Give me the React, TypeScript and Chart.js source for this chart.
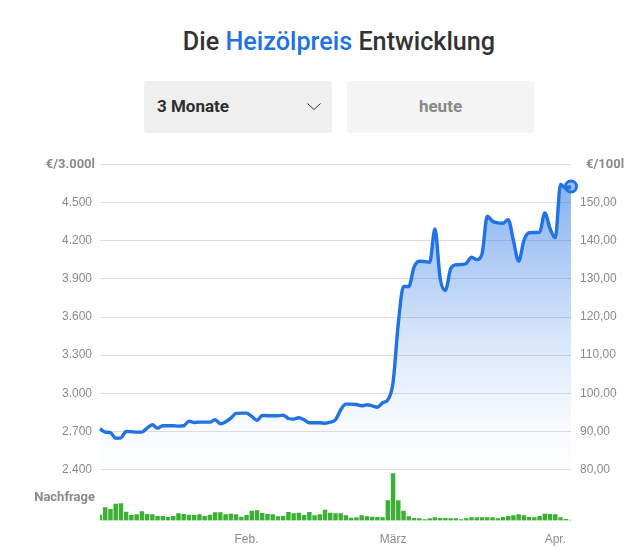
import React, { useRef, useEffect } from "react";
import { Chart, registerables } from "chart.js";

Chart.register(...registerables);

// one entry per day, 04.01. to 04.04.
const days =
  "04.01 05.01 06.01 07.01 08.01 09.01 10.01 11.01 12.01 13.01 14.01 15.01 16.01 17.01 18.01 19.01 20.01 21.01 22.01 23.01 24.01 25.01 26.01 27.01 28.01 29.01 30.01 31.01 01.02 02.02 03.02 04.02 05.02 06.02 07.02 08.02 09.02 10.02 11.02 12.02 13.02 14.02 15.02 16.02 17.02 18.02 19.02 20.02 21.02 22.02 23.02 24.02 25.02 26.02 27.02 28.02 01.03 02.03 03.03 04.03 05.03 06.03 07.03 08.03 09.03 10.03 11.03 12.03 13.03 14.03 15.03 16.03 17.03 18.03 19.03 20.03 21.03 22.03 23.03 24.03 25.03 26.03 27.03 28.03 29.03 30.03 31.03 01.04 02.04 03.04 04.04".split(
    " "
  );

const monthLabels: Record<string, string> = {
  "01.02": "Feb.",
  "01.03": "März",
  "01.04": "Apr.",
};

// euro per 3000 litres
const price = [
  2720, 2694, 2689, 2646, 2649, 2699, 2697, 2694, 2694, 2725, 2752, 2725, 2744,
  2744, 2744, 2741, 2744, 2780, 2770, 2772, 2772, 2772, 2791, 2760, 2775, 2804,
  2841, 2843, 2843, 2817, 2786, 2825, 2823, 2823, 2823, 2827, 2801, 2796, 2807,
  2791, 2767, 2767, 2767, 2764, 2772, 2791, 2870, 2914, 2914, 2911, 2901, 2909,
  2901, 2890, 2925, 2948, 3085, 3549, 3840, 3840, 3992, 4039, 4037, 4031, 4294,
  3903, 3809, 3979, 4011, 4013, 4023, 4071, 4052, 4097, 4393, 4354, 4341, 4338,
  4367, 4202, 4039, 4202, 4263, 4265, 4267, 4420, 4296, 4223, 4643, 4615, 4627,
];

const demand = [
  5.3, 12.7, 11, 16.3, 16.7, 8.3, 5, 5.7, 8.7, 6, 5.7, 4, 4, 3, 4, 6.7, 6, 5.3,
  5, 5.7, 4, 5.3, 7.7, 7.7, 5.7, 6.3, 5.7, 3.3, 5, 9.3, 9.7, 7, 6, 5.7, 3.7, 4,
  8, 6.7, 7.3, 5, 8, 4.7, 5.7, 10.3, 7.3, 6.7, 6.7, 4.7, 2.3, 2.7, 4.7, 3.7,
  3.3, 3, 2.7, 19.7, 46.7, 19.7, 9.3, 3.7, 2, 1.7, 0.7, 1.7, 2.7, 2, 2, 1.7,
  1.7, 0.7, 1.7, 2.7, 2.7, 2.7, 2.7, 2.7, 1.7, 3, 4, 4.7, 5.7, 4.7, 3, 2.7, 4,
  6.3, 6, 5.7, 2.7, 1, 0.4,
];

const leftTicks = [2400, 2700, 3000, 3300, 3600, 3900, 4200, 4500, 4800];
const leftLabels = ["2.400", "2.700", "3.000", "3.300", "3.600", "3.900", "4.200", "4.500", ""];
const rightTicks = [80, 90, 100, 110, 120, 130, 140, 150, 160];
const rightLabels = ["80,00", "90,00", "100,00", "110,00", "120,00", "130,00", "140,00", "150,00", ""];

const BLUE = "#2172e5";
const GREY = "#8a8a8a";
const tickFont = { family: "'Liberation Sans', sans-serif", size: 12 };

// bold unit captions and the "Nachfrage" label sit slightly off the tick column
const captions = {
  id: "captions",
  afterDraw(chart: any) {
    const { ctx, chartArea, scales } = chart;
    ctx.save();
    ctx.font = "bold 13px Roboto, sans-serif";
    ctx.fillStyle = GREY;
    ctx.textBaseline = "middle";
    ctx.textAlign = "right";
    ctx.fillText("€/3.000l", chartArea.left - 5, scales.y.getPixelForValue(4800));
    ctx.fillText("Nachfrage", chartArea.left - 5, scales.y.getPixelForValue(2180));
    ctx.textAlign = "left";
    ctx.fillText("€/100l", chartArea.right + 15, scales.y1.getPixelForValue(160));
    ctx.restore();
  },
};

const App: React.FC = () => {
  const chartRef = useRef<HTMLCanvasElement | null>(null);

  useEffect(() => {
    if (!chartRef.current) return;

    const chart = new Chart(chartRef.current, {
      type: "bar",
      data: {
        labels: days,
        datasets: [
          {
            type: "line",
            data: price,
            yAxisID: "y",
            borderColor: BLUE,
            borderWidth: 3.4,
            cubicInterpolationMode: "monotone",
            fill: { value: 2400 },
            order: 1,
            backgroundColor: (c: any) => {
              const { ctx, scales, chartArea } = c.chart;
              if (!chartArea) return "transparent";
              const top = scales.y.getPixelForValue(4640);
              const bottom = scales.y.getPixelForValue(2400);
              if (!isFinite(top) || !isFinite(bottom)) return "transparent";
              const g = ctx.createLinearGradient(0, top, 0, bottom);
              g.addColorStop(0, "rgba(33,114,229,0.54)");
              g.addColorStop(0.55, "rgba(33,114,229,0.17)");
              g.addColorStop(0.85, "rgba(33,114,229,0.03)");
              g.addColorStop(1, "rgba(33,114,229,0.01)");
              return g;
            },
            pointRadius: (c: any) => (c.dataIndex === price.length - 1 ? 5.5 : 0),
            pointBorderWidth: 3,
            pointBorderColor: BLUE,
            pointBackgroundColor: "rgba(33,114,229,0.45)",
          },
          {
            type: "bar",
            data: demand,
            yAxisID: "y2",
            backgroundColor: "#3cb034",
            barThickness: 3.8,
            order: 2,
          },
        ],
      } as any,
      plugins: [captions],
      options: {
        responsive: false,
        animation: false,
        layout: { padding: { top: 164.6, left: 0, right: 0, bottom: 0 } },
        plugins: { legend: { display: false }, tooltip: { enabled: false } },
        scales: {
          x: {
            offset: false,
            grid: { display: false, drawTicks: false },
            border: { display: false },
            ticks: {
              autoSkip: false,
              maxRotation: 0,
              padding: 12,
              color: GREY,
              font: tickFont,
              callback: (_v: any, i: number) => monthLabels[days[i]] ?? "",
            },
            afterFit: (s: any) => {
              s.height = 37.6;
            },
          },
          y: {
            position: "left",
            min: 1998.6,
            max: 4800,
            grid: { color: "#dedede", lineWidth: 1, drawTicks: false },
            border: { display: false },
            ticks: {
              padding: 8,
              color: GREY,
              font: tickFont,
              autoSkip: false,
              callback: (v: any) => leftLabels[leftTicks.indexOf(v)],
            },
            afterBuildTicks: (s: any) => {
              s.ticks = leftTicks.map((value) => ({ value }));
            },
            afterFit: (s: any) => {
              s.width = 100;
            },
          },
          y1: {
            position: "right",
            min: 66.62,
            max: 160,
            grid: { display: false, drawTicks: false },
            border: { display: false },
            ticks: {
              padding: 9,
              color: GREY,
              font: tickFont,
              autoSkip: false,
              callback: (v: any) => rightLabels[rightTicks.indexOf(v)],
            },
            afterBuildTicks: (s: any) => {
              s.ticks = rightTicks.map((value) => ({ value }));
            },
            afterFit: (s: any) => {
              s.width = 67;
            },
          },
          y2: { display: false, min: 0, max: 355.8 },
        },
      },
    });

    return () => {
      chart.destroy();
    };
  }, []);

  const box: React.CSSProperties = {
    position: "absolute",
    top: 81,
    height: 50,
    paddingBottom: 2,
    borderRadius: 3,
    display: "flex",
    alignItems: "center",
    fontWeight: 700,
    fontSize: 17,
  };

  return (
    <div style={{ position: "absolute", left: 0, top: 0, width: 638, height: 558, fontFamily: "Roboto, sans-serif" }}>
      <div
        style={{
          position: "absolute",
          top: 26,
          left: 0,
          width: 678,
          textAlign: "center",
          fontSize: 25.2,
          fontWeight: 500,
          lineHeight: "32px",
          color: "#333",
        }}
      >
        Die <span style={{ color: BLUE }}>Heizölpreis</span> Entwicklung
      </div>
      <div style={{ ...box, left: 144, width: 188, background: "#efefef", color: "#2e2e2e" }}>
        <span style={{ marginLeft: 13 }}>3 Monate</span>
        <svg width="16" height="9" viewBox="0 0 16 9" style={{ position: "absolute", left: 162, top: 21 }}>
          <path d="M1.5 1.5 L8 7.5 L14.5 1.5" fill="none" stroke="#333" strokeWidth="1" />
        </svg>
      </div>
      <div style={{ ...box, left: 347, width: 187, background: "#f4f4f4", color: "#888", justifyContent: "center" }}>
        heute
      </div>
      <canvas ref={chartRef} width={638} height={558} style={{ position: "absolute", left: 0, top: 0 }} />
    </div>
  );
};

export default App;
